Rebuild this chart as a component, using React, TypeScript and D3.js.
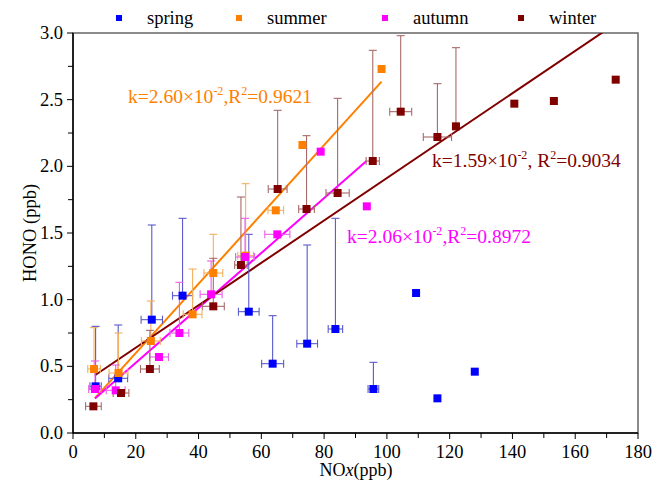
import React from 'react';
import * as d3 from 'd3';

// spring
const springNox = [7.2, 14.4, 25.1, 34.9, 56.0, 63.6, 74.6, 83.6, 95.7, 109.3, 116.1, 128.0];
const springHono = [0.35, 0.41, 0.85, 1.03, 0.91, 0.52, 0.67, 0.78, 0.33, 1.05, 0.26, 0.46];
const springHonoErr = [0.45, 0.4, 0.71, 0.58, 0.58, 0.36, 0.74, 0.83, 0.2, 0, 0, 0];
const springNoxErr = [1.8, 3.0, 3.4, 3.2, 3.3, 3.5, 3.3, 2.3, 1.7, 0, 0, 0];

// summer
const summerNox = [6.7, 14.5, 24.8, 38.1, 44.7, 55.0, 64.6, 73.1, 98.3];
const summerHono = [0.48, 0.45, 0.69, 0.89, 1.2, 1.33, 1.67, 2.16, 2.73];
const summerHonoErr = [0.31, 0.3, 0.3, 0.34, 0.29, 0.54, 0, 0, 0];
const summerNoxErr = [2.0, 3.0, 3.0, 3.0, 3.0, 2.5, 2.5, 0, 0];

// autumn
const autumnNox = [7.0, 13.6, 27.4, 33.9, 44.0, 54.8, 65.1, 78.9, 93.6];
const autumnHono = [0.33, 0.32, 0.57, 0.75, 1.04, 1.32, 1.49, 2.11, 1.7];
const autumnHonoErr = [0.21, 0.19, 0, 0.38, 0.25, 0.29, 0, 0, 0];
const autumnNoxErr = [2.0, 3.0, 3.0, 3.0, 3.5, 3.0, 4.0, 0, 0];

// winter
const winterNox = [6.5, 15.3, 24.5, 44.7, 53.5, 65.2, 74.4, 84.3, 95.5, 104.4, 116.1, 122.0, 140.6, 153.2, 172.9];
const winterHono = [0.2, 0.3, 0.48, 0.95, 1.26, 1.83, 1.68, 1.8, 2.04, 2.41, 2.22, 2.3, 2.47, 2.49, 2.65];
const winterHonoErr = [0, 0, 0.29, 0.36, 0.51, 0.59, 0.55, 0.71, 0.83, 0.57, 0.4, 0.59, 0, 0, 0];
const winterNoxErr = [2.5, 2.5, 3.0, 3.5, 2.0, 3.0, 2.5, 3.7, 2.1, 3.5, 4.5, 0, 0, 0, 0];

const seasons = ['spring', 'summer', 'autumn', 'winter'];

// linear fits: slope, intercept, x range
const fitNames = ['summer', 'autumn', 'winter'];
const fitSlope = [0.026, 0.0206, 0.0159];
const fitIntercept = [0.079, 0.114, 0.322];
const fitFrom = [7, 7, 7];
const fitTo = [98.3, 93.5, 172.9];
const fitSlopeLabel = ['2.60', '2.06', '1.59'];
const fitR2Label = ['0.9621', '0.8972', '0.9034'];

const xTicks = [0, 20, 40, 60, 80, 100, 120, 140, 160, 180];
const yTicks = [0, 0.5, 1.0, 1.5, 2.0, 2.5, 3.0];

const colors = { spring: '#0000ff', summer: '#ff8000', autumn: '#ff00ff', winter: '#800000' };
const errColors = { spring: '#5a5acc', summer: '#f2b060', autumn: '#e860e8', winter: '#a86a6a' };

const series = {
  spring: { nox: springNox, hono: springHono, he: springHonoErr, ne: springNoxErr },
  summer: { nox: summerNox, hono: summerHono, he: summerHonoErr, ne: summerNoxErr },
  autumn: { nox: autumnNox, hono: autumnHono, he: autumnHonoErr, ne: autumnNoxErr },
  winter: { nox: winterNox, hono: winterHono, he: winterHonoErr, ne: winterNoxErr },
};

export default function App() {
  const W = 656, H = 484;
  const left = 73, right = 638, top = 33, bottom = 433;
  const x = d3.scaleLinear().domain([0, 180]).range([left, right]);
  const y = d3.scaleLinear().domain([0, 3]).range([bottom, top]);
  const font = "'Liberation Serif', 'Times New Roman', serif";

  const line = d3.line<[number, number]>().x(d => x(d[0])).y(d => y(d[1]));

  const xMinor = d3.range(0, 181, 10);
  const yMinor = d3.range(0, 3.01, 0.25);

  const labelPos = {
    summer: [128, 103],
    autumn: [347, 243],
    winter: [432, 167],
  };

  return (
    <svg width={W} height={H} style={{ position: 'absolute', left: 0, top: 0, background: '#fff', fontFamily: font }}>
      <defs>
        <clipPath id="plot">
          <rect x={left} y={top} width={right - left} height={bottom - top} />
        </clipPath>
      </defs>
      <rect x={0} y={0} width={W} height={H} fill="#fff" />

      {/* frame */}
      <rect x={left} y={top} width={right - left} height={bottom - top} fill="none" stroke="#666" strokeWidth={1.5} />
      <line x1={left} x2={left} y1={top} y2={bottom} stroke="#000" strokeWidth={1.5} />
      <line x1={left} x2={right} y1={bottom} y2={bottom} stroke="#000" strokeWidth={1.5} />

      {/* ticks */}
      {xMinor.map(v => (
        <line key={'xt' + v} x1={x(v)} x2={x(v)} y1={bottom} y2={bottom + (v % 20 === 0 ? 6 : 5)} stroke="#000" />
      ))}
      {yMinor.map(v => (
        <line key={'yt' + v} x1={left} x2={left - (Math.abs(v * 2 - Math.round(v * 2)) < 1e-6 ? 6 : 5)} y1={y(v)} y2={y(v)} stroke="#000" />
      ))}
      {xTicks.map(v => (
        <text key={'xl' + v} x={x(v)} y={bottom + 25} textAnchor="middle" fontSize={18.5}>{v}</text>
      ))}
      {yTicks.map(v => (
        <text key={'yl' + v} x={left - 10} y={y(v) + 6} textAnchor="end" fontSize={18.5}>{v.toFixed(1)}</text>
      ))}
      <text x={356} y={476} textAnchor="middle" fontSize={18}>
        NO<tspan fontStyle="italic">x</tspan>(ppb)
      </text>
      <text transform={`translate(36,${(top + bottom) / 2}) rotate(-90)`} textAnchor="middle" fontSize={18.5}>HONO (ppb)</text>

      <g clipPath="url(#plot)">
        {/* fit lines */}
        {fitNames.map((s, i) => (
          <path
            key={'fit' + s}
            d={line([
              [fitFrom[i], fitIntercept[i] + fitSlope[i] * fitFrom[i]],
              [fitTo[i], fitIntercept[i] + fitSlope[i] * fitTo[i]],
            ]) || ''}
            stroke={colors[s]}
            strokeWidth={2}
            fill="none"
          />
        ))}

        {/* error bars and points */}
        {seasons.map(s => {
          const d = series[s];
          return (
            <g key={s}>
              {d.nox.map((v, i) => {
                const cx = x(v), cy = y(d.hono[i]);
                const he = d.he[i], ne = d.ne[i];
                const c = errColors[s];
                return (
                  <g key={i}>
                    {he > 0 && (
                      <g stroke={c} strokeWidth={1.1}>
                        <line x1={cx} x2={cx} y1={cy} y2={y(d.hono[i] + he)} />
                        <line x1={cx - 4} x2={cx + 4} y1={y(d.hono[i] + he)} y2={y(d.hono[i] + he)} />
                      </g>
                    )}
                    {ne > 0 && (
                      <g stroke={c} strokeWidth={1.1}>
                        <line x1={x(v - ne)} x2={x(v + ne)} y1={cy} y2={cy} />
                        <line x1={x(v - ne)} x2={x(v - ne)} y1={cy - 4} y2={cy + 4} />
                        <line x1={x(v + ne)} x2={x(v + ne)} y1={cy - 4} y2={cy + 4} />
                      </g>
                    )}
                  </g>
                );
              })}
            </g>
          );
        })}
        {seasons.map(s => {
          const d = series[s];
          return (
            <g key={'p' + s}>
              {d.nox.map((v, i) => (
                <rect key={i} x={x(v) - 4} y={y(d.hono[i]) - 4} width={8} height={8} fill={colors[s]} />
              ))}
            </g>
          );
        })}
      </g>

      {/* fit annotations */}
      {fitNames.map((s, i) => (
        <text key={'lab' + s} x={labelPos[s][0]} y={labelPos[s][1]} fontSize={19.5} fill={colors[s]}>
          k={fitSlopeLabel[i]}×10<tspan dy={-8} fontSize={12}>-2</tspan>
          <tspan dy={8}>,{s === 'winter' ? ' ' : ''}R</tspan>
          <tspan dy={-8} fontSize={12}>2</tspan>
          <tspan dy={8}>={fitR2Label[i]}</tspan>
        </text>
      ))}

      {/* legend */}
      {seasons.map((s, i) => {
        const lx = [116, 236, 382, 518][i];
        return (
          <g key={'lg' + s}>
            <rect x={lx} y={15} width={6} height={6} fill={colors[s]} />
            <text x={lx + 31} y={24} fontSize={18.5}>{s}</text>
          </g>
        );
      })}
    </svg>
  );
}
